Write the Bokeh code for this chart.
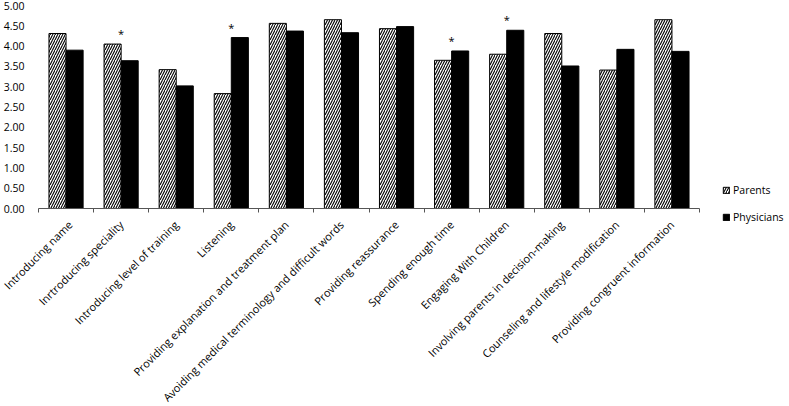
import numpy as np
from bokeh.plotting import figure
from bokeh.models import (ColumnDataSource, FixedTicker, NumeralTickFormatter,
                          Range1d, Legend, LegendItem)
from bokeh.core.properties import value
from bokeh.embed import file_html
from bokeh.resources import INLINE

categories = [
    "Introducing name",
    "Inrtroducing speciality",
    "Introducing level of training",
    "Listening",
    "Providing explanation and treatment plan",
    "Avoiding medical terminology and difficult words",
    "Providing reassurance",
    "Spending enough time",
    "Engaging With Children",
    "Involving parents in decision-making",
    "Counseling and lifestyle modification",
    "Providing congruent information",
]
parents = [4.31, 4.05, 3.42, 2.83, 4.56, 4.65, 4.43, 3.65, 3.80, 4.31, 3.41, 4.65]
physicians = [3.90, 3.64, 3.02, 4.21, 4.37, 4.33, 4.48, 3.88, 4.39, 3.51, 3.92, 3.87]
significant = [False, True, False, True, False, False, False, True, True, False, False, False]
y_ticks = [0, 0.5, 1, 1.5, 2, 2.5, 3, 3.5, 4, 4.5, 5]

FONT = "Open Sans"
n = len(categories)
idx = np.arange(n)
bw = 0.31

src = ColumnDataSource(dict(
    xp=idx + 0.5 - bw / 2,
    xd=idx + 0.5 + bw / 2,
    parents=parents,
    physicians=physicians,
))

p = figure(frame_width=661, frame_height=203, output_backend="svg",
           toolbar_location=None, x_range=Range1d(0, n), y_range=Range1d(0, 5),
           min_border_left=32, min_border_top=5, min_border_right=0,
           min_border_bottom=0)
p.outline_line_color = None
p.xgrid.grid_line_color = None
p.ygrid.grid_line_color = None
p.background_fill_color = "white"

r_par = p.vbar(x="xp", top="parents", width=bw, source=src, fill_color="white",
               line_color="black", line_width=1, hatch_pattern="/",
               hatch_color="black", hatch_scale=5, hatch_weight=1.1)
r_phy = p.vbar(x="xd", top="physicians", width=bw, source=src, fill_color="black",
               line_color="black", line_width=1)

# significance asterisks
sx = [i + 0.5 for i in idx if significant[i]]
sy = [max(parents[i], physicians[i]) + 0.07 for i in idx if significant[i]]
p.text(x=sx, y=sy, text=["*"] * len(sx), text_align="center",
       text_baseline="bottom", text_font=value(FONT), text_font_size="11px",
       text_color="black")

# x axis: labels at category centres, ticks at boundaries
centres = [i + 0.5 for i in range(n)]
p.xaxis.ticker = FixedTicker(ticks=centres, minor_ticks=list(range(n + 1)))
p.xaxis.major_label_overrides = {c: lab for c, lab in zip(centres, categories)}
p.xaxis.major_label_orientation = np.pi / 4
p.xaxis.major_tick_in = 0
p.xaxis.major_tick_out = 0
p.xaxis.minor_tick_in = 0
p.xaxis.minor_tick_out = 4
p.xaxis.minor_tick_line_color = "#555555"
p.xaxis.axis_line_color = "#555555"
p.xaxis.major_label_text_font = FONT
p.xaxis.major_label_text_font_size = "11px"
p.xaxis.major_label_text_color = "black"
p.xaxis.major_label_standoff = 10

p.yaxis.ticker = FixedTicker(ticks=y_ticks)
p.yaxis.formatter = NumeralTickFormatter(format="0.00")
p.yaxis.axis_line_color = None
p.yaxis.major_tick_line_color = None
p.yaxis.minor_tick_line_color = None
p.yaxis.major_label_text_font = FONT
p.yaxis.major_label_text_font_size = "10.5px"
p.yaxis.major_label_text_color = "black"
p.yaxis.major_label_standoff = 8

legend = Legend(items=[LegendItem(label="Parents", renderers=[r_par]),
                       LegendItem(label="Physicians", renderers=[r_phy])],
                location=(23, -16), orientation="vertical",
                glyph_width=8, glyph_height=8, label_height=9, spacing=13,
                label_standoff=3, padding=0, margin=0,
                border_line_color=None, background_fill_alpha=0,
                label_text_font=FONT, label_text_font_size="10.5px",
                label_text_color="black")
p.add_layout(legend, "right")
p.min_border_right = 80

open("out.html", "w").write(file_html(p, INLINE))
